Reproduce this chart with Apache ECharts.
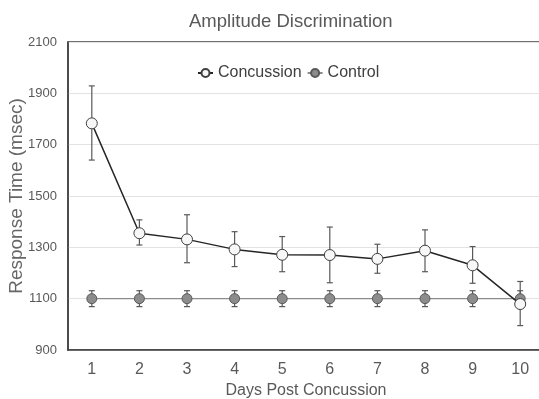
<!DOCTYPE html>
<html>
<head>
<meta charset="utf-8">
<script src="https://cdn.jsdelivr.net/npm/echarts@6/dist/echarts.min.js"></script>
<style>html,body{margin:0;padding:0;background:#fff;}#c{width:539px;height:399px;}</style>
</head>
<body>
<div id="c"></div>
<script>
const categories = ['1','2','3','4','5','6','7','8','9','10'];
const concussion = [1783, 1355, 1331, 1292, 1271, 1270, 1255, 1287, 1230, 1079];
const concussionHigh = [1929, 1407, 1427, 1361, 1342, 1379, 1312, 1368, 1303, 1167];
const concussionLow = [1640, 1309, 1240, 1225, 1205, 1162, 1199, 1205, 1160, 995];
const control = [1100, 1100, 1100, 1100, 1100, 1100, 1100, 1100, 1100, 1100];
const controlHigh = [1131, 1131, 1131, 1131, 1131, 1131, 1131, 1131, 1131, 1131];
const controlLow = [1069, 1069, 1069, 1069, 1069, 1069, 1069, 1069, 1069, 1069];

const font = 'Liberation Sans, Arial, sans-serif';
const chart = echarts.init(document.getElementById('c'), null, {renderer: 'canvas'});

function errData(hi, lo) {
  return categories.map((c, i) => [i, lo[i], hi[i]]);
}
function errRender(params, api) {
  const x = api.value(0);
  const lo = api.coord([x, api.value(1)]);
  const hi = api.coord([x, api.value(2)]);
  const w = 3;
  const st = {stroke: '#595959', lineWidth: 1.2};
  return {type: 'group', children: [
    {type: 'line', shape: {x1: lo[0], y1: lo[1], x2: hi[0], y2: hi[1]}, style: st},
    {type: 'line', shape: {x1: hi[0]-w, y1: hi[1], x2: hi[0]+w, y2: hi[1]}, style: st},
    {type: 'line', shape: {x1: lo[0]-w, y1: lo[1], x2: lo[0]+w, y2: lo[1]}, style: st}
  ]};
}

chart.setOption({
  animation: false,
  backgroundColor: '#fff',
  title: {
    text: 'Amplitude Discrimination', left: 184, top: 7,
    textStyle: {fontFamily: font, fontSize: 18.5, fontWeight: 'normal', color: '#595959'}
  },
  legend: {
    top: 60, left: 192, itemWidth: 15, itemHeight: 10, itemGap: 5,
    textStyle: {fontFamily: font, fontSize: 16, color: '#404040'},
    data: ['Concussion', 'Control']
  },
  grid: {left: 68, right: -5, top: 42, bottom: 49, outerBoundsMode: 'none', containLabel: false,
    show: true, borderColor: '#404040', borderWidth: 1.5, backgroundColor: 'transparent'},
  xAxis: {
    type: 'category', data: categories, boundaryGap: true,
    name: 'Days Post Concussion', nameLocation: 'middle', nameGap: 33, nameMoveOverlap: false,
    nameTextStyle: {fontFamily: font, fontSize: 16, color: '#595959'},
    axisLine: {show: true, lineStyle: {color: '#404040', width: 1.5}},
    axisTick: {show: false},
    axisLabel: {fontFamily: font, fontSize: 16, color: '#595959', margin: 12}
  },
  yAxis: {
    type: 'value', min: 900, max: 2100, interval: 200,
    name: 'Response Time (msec)', nameLocation: 'middle', nameGap: 42, nameMoveOverlap: false,
    nameTextStyle: {fontFamily: font, fontSize: 19, color: '#666666'},
    axisLine: {show: true, lineStyle: {color: '#404040', width: 1.5}},
    axisTick: {show: false},
    axisLabel: {fontFamily: font, fontSize: 13, color: '#595959', margin: 11, formatter: v => String(v)},
    splitLine: {show: true, lineStyle: {color: '#e3e3e3', width: 1}}
  },
  series: [
    {
      name: 'Control', type: 'line', data: control, z: 3,
      symbol: 'circle', symbolSize: 10,
      lineStyle: {color: '#8c8c8c', width: 1.2},
      itemStyle: {color: '#8c8c8c', borderColor: '#595959', borderWidth: 1}
    },
    {
      type: 'custom', renderItem: errRender, data: errData(controlHigh, controlLow), z: 2, silent: true
    },
    {
      name: 'Concussion', type: 'line', data: concussion, z: 4,
      symbol: 'circle', symbolSize: 11,
      lineStyle: {color: '#262626', width: 1.5},
      itemStyle: {color: '#f7f7f7', borderColor: '#404040', borderWidth: 1}
    },
    {
      type: 'custom', renderItem: errRender, data: errData(concussionHigh, concussionLow), z: 2, silent: true
    }
  ]
});
</script>
</body>
</html>
